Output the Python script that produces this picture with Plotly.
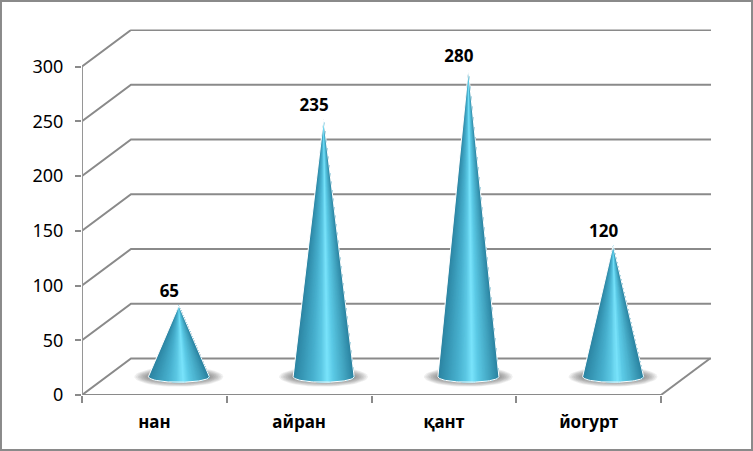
import numpy as np
import plotly.graph_objects as go

categories = ["нан", "айран", "қант", "йогурт"]
values = [65, 235, 280, 120]
y_ticks = [0, 50, 100, 150, 200, 250, 300]

W, H = 753, 451
GRAY = "#8a8a8a"
X0, X1, Y0, Y1 = 82, 711, 395, 29.5   # plot area in px
UX = (661 - 82) / 4                   # px per category
UY = 328.5 / 300                      # px per value unit
DX = 49 / UX                          # depth offset in x units
DY = 36.5 / UY                        # depth offset in y units
x_range = [-0.5, -0.5 + (X1 - X0) / UX]
y_range = [0, (Y0 - Y1) / UY]

stops = [(0.0, (44, 132, 162)), (0.1, (52, 146, 176)), (0.32, (72, 176, 206)),
         (0.46, (92, 200, 228)), (0.56, (122, 228, 252)), (0.66, (92, 202, 230)),
         (0.85, (66, 164, 192)), (1.0, (42, 130, 160))]


def shade(t):
    p = [s[0] for s in stops]
    c = [np.interp(t, p, [s[1][i] for s in stops]) for i in range(3)]
    return "rgb(%d,%d,%d)" % tuple(c)


fig = go.Figure()


def line(xs, ys, color=GRAY, width=2):
    fig.add_trace(go.Scatter(x=xs, y=ys, mode="lines", hoverinfo="skip", showlegend=False,
                             cliponaxis=False, line=dict(color=color, width=width)))


# walls and floor
for t in y_ticks:
    line([-0.5, -0.5 + DX, x_range[1]], [t, t + DY, t + DY])
line([3.5, 3.5 + DX], [0, DY])
line([-0.5, 3.5], [0, 0])
line([-0.5, -0.5], [0, 300], "#969696", 2)

# cones
cx_off = DX / 2
cy_off = DY / 2
rx = 30.5 / UX
ry = 5.5 / UY
for i, v in enumerate(values):
    cx, cy = i + cx_off, cy_off
    # soft shadow on the floor
    for k in range(10):
        f = 1 - k / 10
        th = np.linspace(0, 2 * np.pi, 50)
        fig.add_trace(go.Scatter(
            x=cx + (rx * 0.9 + f * 17 / UX) * np.cos(th),
            y=cy + (3.5 / UY + f * 6.5 / UY) * np.sin(th),
            mode="lines", fill="toself", fillcolor="rgba(70,70,70,0.085)",
            line=dict(width=0), hoverinfo="skip", showlegend=False))
    # cone body: painter's fan, each wedge runs to the right edge and the next one overlaps it
    n = 60
    edges = np.linspace(0, 1, n + 1)
    for a in edges[:-1]:
        sub = np.linspace(a, 1, 40)
        bx = cx + rx * (2 * sub - 1)
        by = cy - ry * np.sqrt(np.clip(1 - (2 * sub - 1) ** 2, 0, 1))
        fig.add_trace(go.Scatter(
            x=[cx, *bx, cx], y=[cy + v, *by, cy + v], mode="lines", fill="toself",
            fillcolor=shade(a + 0.5 / n), line=dict(width=0),
            hoverinfo="skip", showlegend=False))
    # white rim
    s = np.linspace(0, 1, 40)
    fig.add_trace(go.Scatter(
        x=[cx, *(cx + rx * (2 * s - 1)), cx],
        y=[cy + v, *(cy - ry * np.sqrt(np.clip(1 - (2 * s - 1) ** 2, 0, 1))), cy + v],
        mode="lines", line=dict(color="white", width=1),
        hoverinfo="skip", showlegend=False))

# value labels
fig.add_trace(go.Scatter(
    x=[i + cx_off - 9.5 / UX for i in range(4)],
    y=[v + cy_off + 12.5 / UY for v in values],
    mode="text", text=[str(v) for v in values], textposition="middle center",
    textfont=dict(family="Noto Sans", size=17, color="black", weight="bold"),
    hoverinfo="skip", showlegend=False, cliponaxis=False))

fig.update_layout(
    width=W, height=H, margin=dict(l=0, r=0, t=0, b=0), autosize=False,
    paper_bgcolor="white", plot_bgcolor="white", showlegend=False,
    xaxis=dict(domain=[X0 / W, X1 / W], range=x_range, tickmode="array",
               tickvals=list(range(4)), ticktext=categories, ticks="", showgrid=False,
               zeroline=False, showline=False, automargin=False, ticklabelstandoff=15,
               tickfont=dict(family="Noto Sans", size=17, color="black", weight="bold"),
               minor=dict(tickmode="array", tickvals=[-0.5, 0.5, 1.5, 2.5, 3.5], ticks="outside",
                          ticklen=7, tickwidth=2, tickcolor=GRAY, showgrid=False)),
    yaxis=dict(domain=[1 - Y0 / H, 1 - Y1 / H], range=y_range, tickmode="array",
               tickvals=y_ticks, ticks="outside", ticklen=6, tickwidth=2, tickcolor=GRAY,
               showgrid=False, zeroline=False, showline=False, automargin=False,
               ticklabelstandoff=8,
               tickfont=dict(family="Noto Sans", size=18, color="black")),
    shapes=[dict(type="rect", xref="paper", yref="paper", x0=0.0013, x1=0.9987, y0=0.002, y1=0.9978,
                 line=dict(color=GRAY, width=2), fillcolor="rgba(0,0,0,0)", layer="above")],
)

fig.write_html("out.html", config=dict(displayModeBar=False),
               post_script="document.body.style.margin='0';document.body.style.overflow='hidden';")
